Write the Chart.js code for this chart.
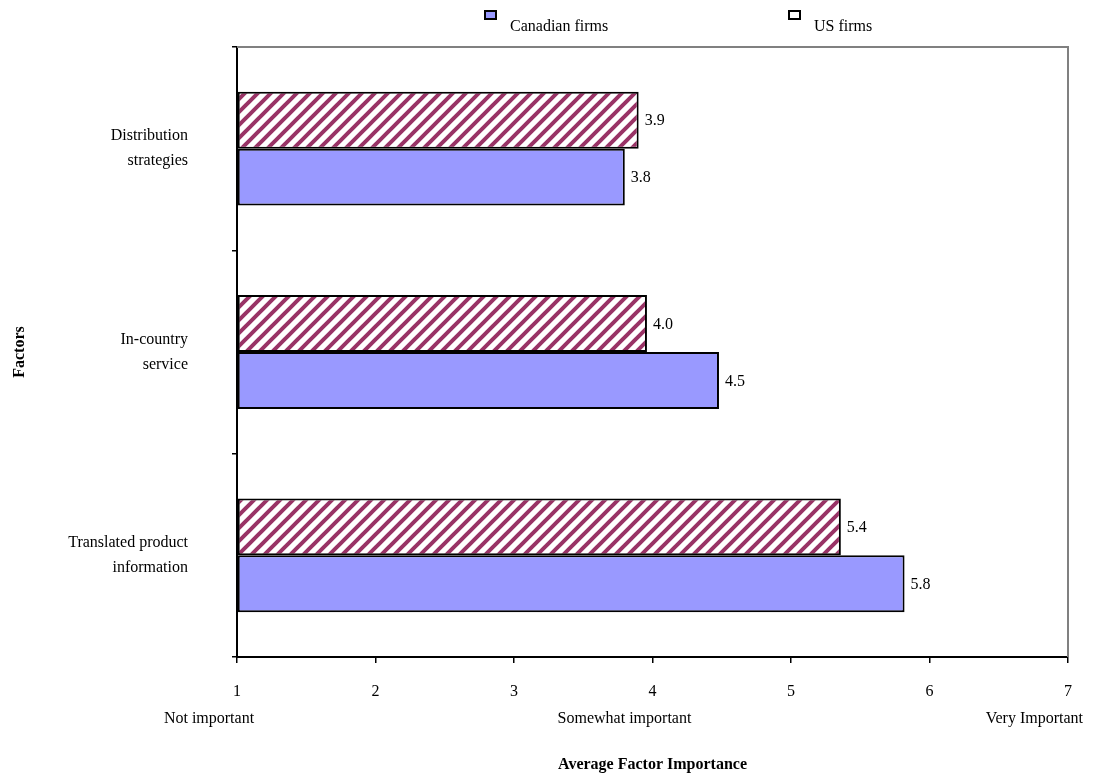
<!DOCTYPE html>
<html>
<head>
<meta charset="utf-8">
<script src="https://cdn.jsdelivr.net/npm/chart.js@4/dist/chart.umd.min.js"></script>
<style>
  body { margin: 0; background: #fff; }
  #wrap { width: 1103px; height: 778px; }
</style>
</head>
<body>
<div id="wrap"><canvas id="factorChart"></canvas></div>
<script>
var categories = [['Distribution', 'strategies'], ['In-country', 'service'], ['Translated product', 'information']];
var usFirms = [3.90, 3.96, 5.36];
var canadianFirms = [3.80, 4.48, 5.82];
var xTickValues = [1, 2, 3, 4, 5, 6, 7];
var xTickNotes = ['Not important', '', '', 'Somewhat important', '', '', 'Very Important'];

var FONT = "'Liberation Serif', 'Times New Roman', serif";

// diagonal stripe fill for the US series
function makeStripes() {
    var s = 13;
    var c = document.createElement('canvas');
    c.width = s; c.height = s;
    var g = c.getContext('2d');
    g.fillStyle = '#ffffff';
    g.fillRect(0, 0, s, s);
    g.strokeStyle = '#993366';
    g.lineWidth = 4;
    g.beginPath();
    g.moveTo(-s, 2 * s); g.lineTo(2 * s, -s);
    g.moveTo(-2 * s, 2 * s); g.lineTo(s, -s);
    g.moveTo(0, 2 * s); g.lineTo(3 * s, -s);
    g.stroke();
    return g.createPattern(c, 'repeat');
}

var plotFrame = {
    id: 'plotFrame',
    beforeDatasetsDraw: function(chart) {
        var a = chart.chartArea, ctx = chart.ctx;
        ctx.save();
        ctx.strokeStyle = '#808080';
        ctx.lineWidth = 2;
        ctx.beginPath();
        ctx.moveTo(a.left, a.top);
        ctx.lineTo(a.right, a.top);
        ctx.lineTo(a.right, a.bottom);
        ctx.stroke();
        ctx.restore();
    }
};

var valueLabels = {
    id: 'valueLabels',
    afterDatasetsDraw: function(chart) {
        var ctx = chart.ctx;
        ctx.save();
        ctx.font = '16px ' + FONT;
        ctx.fillStyle = '#000';
        ctx.textAlign = 'left';
        ctx.textBaseline = 'middle';
        chart.data.datasets.forEach(function(ds, i) {
            chart.getDatasetMeta(i).data.forEach(function(bar, j) {
                ctx.fillText(ds.data[j].toFixed(1), bar.x + 6, bar.y + 1);
            });
        });
        ctx.restore();
    }
};

// second row under the x ticks: scale descriptions
var scaleNotes = {
    id: 'scaleNotes',
    afterDraw: function(chart) {
        var ctx = chart.ctx, xs = chart.scales.x;
        ctx.save();
        ctx.font = '16px ' + FONT;
        ctx.fillStyle = '#000';
        ctx.textAlign = 'center';
        ctx.textBaseline = 'middle';
        xTickValues.forEach(function(v, i) {
            var note = xTickNotes[i];
            if (!note) return;
            var w = ctx.measureText(note).width;
            var x = Math.min(xs.getPixelForValue(v) - 28, chart.width - 20 - w / 2);
            ctx.fillText(note, x, xs.top + 62);
        });
        ctx.restore();
    }
};

var topLegend = {
    id: 'topLegend',
    afterDraw: function(chart) {
        var ctx = chart.ctx;
        var items = [
            { text: 'Canadian firms', fill: '#9999FF', x: 485 },
            { text: 'US firms', fill: '#ffffff', x: 789 }
        ];
        ctx.save();
        ctx.font = '16px ' + FONT;
        ctx.textBaseline = 'middle';
        items.forEach(function(it) {
            ctx.fillStyle = it.fill;
            ctx.fillRect(it.x, 11, 11, 8);
            ctx.strokeStyle = '#000';
            ctx.lineWidth = 2;
            ctx.strokeRect(it.x, 11, 11, 8);
            ctx.fillStyle = '#000';
            ctx.fillText(it.text, it.x + 25, 27);
        });
        ctx.restore();
    }
};

var ctx = document.getElementById('factorChart').getContext('2d');
var factorChart = new Chart(ctx, {
    type: 'bar',
    data: {
        labels: categories,
        datasets: [{
            label: 'US firms',
            data: usFirms,
            backgroundColor: makeStripes(),
            borderColor: '#000',
            borderWidth: 2,
            borderSkipped: false
        }, {
            label: 'Canadian firms',
            data: canadianFirms,
            backgroundColor: '#9999FF',
            borderColor: '#000',
            borderWidth: 2,
            borderSkipped: false
        }]
    },
    options: {
        indexAxis: 'y',
        responsive: true,
        maintainAspectRatio: false,
        animation: false,
        base: 1,
        categoryPercentage: 0.56,
        barPercentage: 1,
        layout: { padding: { top: 47, right: 35, left: 0, bottom: 0 } },
        plugins: {
            legend: { display: false },
            tooltip: { enabled: false }
        },
        scales: {
            x: {
                min: 1,
                max: 7,
                afterBuildTicks: function(scale) {
                    scale.ticks = xTickValues.map(function(v) { return { value: v }; });
                },
                afterFit: function(scale) {
                    scale.height = 121;
                    scale.paddingLeft = 0;
                    scale.paddingRight = 0;
                },
                ticks: {
                    color: '#000',
                    padding: 19,
                    font: { family: FONT, size: 16 },
                    maxRotation: 0,
                    autoSkip: false
                },
                grid: { drawOnChartArea: false, tickLength: 6, color: '#000', lineWidth: 1.5 },
                border: { color: '#000', width: 2 },
                title: {
                    display: true,
                    text: 'Average Factor Importance',
                    color: '#000',
                    font: { family: FONT, size: 16, weight: 'bold' },
                    padding: { top: 0, bottom: 4 }
                }
            },
            y: {
                afterFit: function(scale) {
                    scale.width = 237;
                    scale.paddingTop = 0;
                    scale.paddingBottom = 0;
                },
                ticks: {
                    color: '#000',
                    padding: 44,
                    font: { family: FONT, size: 16, lineHeight: 1.55 }
                },
                grid: { drawOnChartArea: false, offset: true, tickLength: 5, color: '#000', lineWidth: 1.5 },
                border: { color: '#000', width: 2 },
                title: {
                    display: true,
                    text: 'Factors',
                    color: '#000',
                    font: { family: FONT, size: 16, weight: 'bold' },
                    padding: { top: 10, bottom: 0 }
                }
            }
        }
    },
    plugins: [plotFrame, valueLabels, scaleNotes, topLegend]
});
</script>
</body>
</html>
